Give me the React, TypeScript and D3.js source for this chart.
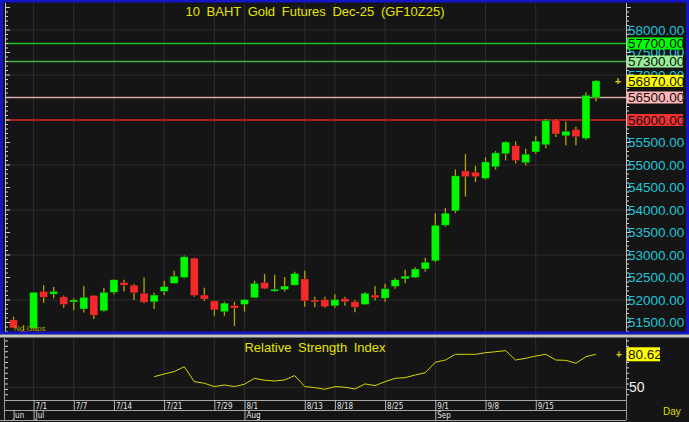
import * as d3 from "d3";

// trading days (Thai futures calendar, holidays skipped)
const dates = [
  "6/27", "6/30", "7/1", "7/2", "7/3", "7/4", "7/7", "7/8", "7/9", "7/11",
  "7/14", "7/15", "7/16", "7/17", "7/18", "7/21", "7/22", "7/23", "7/24", "7/25",
  "7/29", "7/30", "7/31", "8/1", "8/4", "8/5", "8/6", "8/7", "8/8", "8/13",
  "8/14", "8/15", "8/18", "8/19", "8/20", "8/21", "8/22", "8/25", "8/26", "8/27",
  "8/28", "8/29", "9/1", "9/2", "9/3", "9/4", "9/5", "9/8", "9/9", "9/10",
  "9/11", "9/12", "9/15", "9/16", "9/17", "9/18", "9/19", "9/22", "9/23",
];
const opens = [
  51560, 51310, 51370, 52190, 52130, 52070, 51960, 51800, 52100, 51760,
  52170, 52390, 52330, 52150, 51960, 52190, 52370, 52500, 52930, 52110,
  51980, 51740, 51880, 51900, 52050, 52390, 52210, 52230, 52330, 52470,
  52000, 52010, 51870, 52030, 51960, 51900, 52110, 52040, 52300, 52470,
  52500, 52690, 52870, 53660, 53980, 54870, 54840, 54700, 54960, 55250,
  55430, 55050, 55290, 55450, 56000, 55650, 55790, 55590, 56500,
];
const highs = [
  51630, 51440, 52180, 52330, 52290, 52100, 52040, 52310, 52110, 52270,
  52460, 52450, 52360, 52500, 52160, 52430, 52650, 52990, 52940, 52270,
  51990, 51960, 51960, 52020, 52430, 52580, 52560, 52510, 52630, 52650,
  52070, 52070, 52130, 52070, 52000, 52180, 52310, 52360, 52490, 52670,
  52730, 52940, 53930, 54040, 54900, 55240, 54980, 55170, 55310, 55530,
  55520, 55360, 55640, 56020, 56020, 55960, 55850, 56610, 56890,
];
const lows = [
  51370, 51270, 51350, 51940, 52040, 51830, 51770, 51720, 51580, 51740,
  52130, 52190, 52000, 51930, 51800, 52110, 52360, 52480, 52070, 51980,
  51650, 51650, 51420, 51740, 52040, 52240, 52190, 52190, 52320, 51850,
  51840, 51830, 51830, 51870, 51730, 51890, 51990, 51960, 52250, 52370,
  52490, 52630, 52840, 53630, 53930, 54300, 54620, 54680, 54900, 55100,
  55040, 54990, 55250, 55370, 55620, 55440, 55440, 55560, 56410,
];
const closes = [
  51380, 51290, 52170, 52060, 52190, 51900, 52000, 52060, 51660, 52170,
  52450, 52330, 52160, 51950, 52110, 52300, 52530, 52960, 52100, 52020,
  51780, 51930, 51820, 52010, 52370, 52250, 52240, 52310, 52590, 51980,
  51960, 51850, 52010, 51960, 51840, 52150, 52050, 52250, 52450, 52530,
  52690, 52840, 53660, 53930, 54760, 54740, 54740, 55070, 55270, 55510,
  55100, 55240, 55530, 55990, 55690, 55750, 55630, 56550, 56870,
];
// RSI, first 14 days have no value
const rsi: (number | null)[] = [
  null, null, null, null, null, null, null, null, null, null,
  null, null, null, null, 59.8, 62.3, 64.5, 69.1, 55.2, 53.7,
  50.6, 52.1, 50.6, 52.8, 58.3, 56.5, 55.8, 56.8, 60.8, 50.6,
  49.6, 48.1, 50.6, 50.0, 48.4, 53.1, 51.5, 55.2, 58.3, 58.9,
  61.4, 63.5, 73.2, 75.3, 80.6, 80.6, 80.6, 82.1, 83.0, 84.0,
  75.3, 76.9, 79.0, 80.6, 75.3, 75.0, 72.3, 78.4, 80.62,
];

const tickDates = ["7/1", "7/7", "7/14", "7/21", "7/29", "8/1", "8/13", "8/18", "8/25", "9/1", "9/8", "9/15"];
const monthStarts = ["7/1", "8/1", "9/1"];
const monthNames = ["Jun", "Jul", "Aug", "Sep"];
const priceTicks = d3.range(51500, 58001, 500);
const levelValues = [57700, 57300, 56500, 56000];
const lastPrice = 56870;
const lastRsi = 80.62;

const W = 689;
const H = 422;
const FONT = "Arial, 'Liberation Sans', sans-serif";

const levelLine: Record<number, string> = { 57700: "#1fc21f", 57300: "#45b045", 56500: "#d9aaa2", 56000: "#d52222" };
const levelBox: Record<number, string> = { 57700: "#00ff00", 57300: "#98f098", 56500: "#ffb6b6", 56000: "#f23232" };

export default function App() {
  const plotL = 5, plotR = 626;
  const mainTop = 3, mainBot = 332;
  const rsiTop = 338, rsiBot = 400;
  const axBot = 420;

  const x = d3.scaleLinear().domain([0, dates.length - 1]).range([13.5, 596]);
  const y = d3.scaleLinear().domain([56000, 58000]).range([120, 30]);
  const ry = d3.scaleLinear().domain([40, 90]).range([398, 344.2]);
  const idx = (d: string) => dates.indexOf(d);

  const rsiLine = d3.line<number | null>()
    .defined(d => d != null)
    .x((_, i) => x(i))
    .y(d => ry(d as number));

  const gridY = d3.range(52000, 58001, 1000);
  const minorY = d3.range(51300, 58600, 100).filter(v => y(v) > mainTop && y(v) < mainBot);
  const rsiTicks = d3.range(40, 91, 10);
  const rsiMinor = d3.range(38, 96, 5).filter(v => ry(v) > rsiTop + 2 && ry(v) < rsiBot - 1);

  return (
    <div style={{ position: "absolute", left: 0, top: 0 }}>
      <svg width={W} height={H} style={{ display: "block", background: "#151515" }} fontFamily={FONT}>
        {/* main panel */}
        <rect x={0} y={0} width={W} height={335} fill="#151515" />
        {gridY.map(v => (
          <line key={v} x1={plotL} x2={plotR} y1={y(v)} y2={y(v)} stroke="#2d2d2d" />
        ))}
        {tickDates.map(d => (
          <line key={d} x1={x(idx(d))} x2={x(idx(d))} y1={mainTop} y2={mainBot} stroke="#2d2d2d" />
        ))}
        <text x={315} y={16} textAnchor="middle" fontSize={13} fill="#e4e400" wordSpacing={3}>
          10 BAHT Gold Futures Dec-25 (GF10Z25)
        </text>

        {levelValues.map(v => (
          <line key={v} x1={plotL} x2={plotR} y1={y(v)} y2={y(v)} stroke={levelLine[v]} strokeWidth={1.5} />
        ))}

        {/* candles */}
        {dates.map((d, i) => {
          const up = closes[i] >= opens[i];
          const top = y(Math.max(opens[i], closes[i]));
          const bot = y(Math.min(opens[i], closes[i]));
          return (
            <g key={d}>
              <line x1={x(i)} x2={x(i)} y1={y(highs[i])} y2={y(lows[i])} stroke="#b4a600" strokeWidth={1.3} />
              <rect
                x={x(i) - 4}
                y={top}
                width={8}
                height={Math.max(2, bot - top)}
                fill={up ? "#00f800" : "#f42a2a"}
                stroke="#000"
                strokeOpacity={0.35}
                strokeWidth={0.8}
              />
            </g>
          );
        })}

        <text x={14} y={331} fontSize={8} fill="#a8a400">No Gaps</text>
        <text x={618} y={y(lastPrice) + 4} textAnchor="middle" fontSize={11} fontWeight="bold" fill="#e0d000">+</text>

        {/* axes lines + ticks */}
        <line x1={plotL + 0.5} x2={plotL + 0.5} y1={mainTop} y2={mainBot} stroke="#bdbdbd" />
        <line x1={plotR + 0.5} x2={plotR + 0.5} y1={mainTop} y2={mainBot} stroke="#bdbdbd" />
        {minorY.map(v => (
          <g key={v}>
            <line x1={plotL} x2={plotL + (v % 500 === 0 ? 5 : 3)} y1={y(v)} y2={y(v)} stroke="#d0d0d0" />
            <line x1={plotR} x2={plotR + (v % 500 === 0 ? 5 : 3)} y1={y(v)} y2={y(v)} stroke="#d0d0d0" />
          </g>
        ))}
        {priceTicks.map(v => (
          <text key={v} x={628} y={y(v)} dy="0.36em" fontSize={13.5} fill="#1fc6d8">
            {v.toFixed(2)}
          </text>
        ))}
        {[...levelValues, lastPrice].sort((a, b) => a - b).map(v => (
          <g key={"b" + v}>
            <rect x={627} y={y(v) - 6} width={56} height={12} fill={v === lastPrice ? "#ffff00" : levelBox[v]} />
            <text x={628} y={y(v)} dy="0.36em" fontSize={13.5} fill="#111">{v.toFixed(2)}</text>
          </g>
        ))}

        {/* blue frame of active panel */}
        <rect x={1.5} y={1} width={686} height={332} fill="none" stroke="#1414c8" strokeWidth={3} />
        <rect x={0} y={334.5} width={W} height={3} fill="#c4c4c4" />

        {/* RSI panel */}
        <line x1={plotL} x2={plotR} y1={ry(50)} y2={ry(50)} stroke="#2d2d2d" />
        {tickDates.map(d => (
          <line key={"r" + d} x1={x(idx(d))} x2={x(idx(d))} y1={rsiTop} y2={rsiBot} stroke="#2d2d2d" />
        ))}
        <text x={315} y={352} textAnchor="middle" fontSize={13} fill="#e4e400" wordSpacing={3}>
          Relative Strength Index
        </text>
        <path d={rsiLine(rsi) ?? ""} fill="none" stroke="#d6d600" strokeWidth={1} />
        <line x1={plotL - 0.5} x2={plotL - 0.5} y1={rsiTop} y2={axBot} stroke="#9a9a9a" />
        <line x1={plotR + 0.5} x2={plotR + 0.5} y1={rsiTop} y2={axBot} stroke="#9a9a9a" />
        {rsiMinor.map(v => (
          <g key={"rm" + v}>
            <line x1={plotL} x2={plotL + (rsiTicks.includes(v) ? 5 : 3)} y1={ry(v)} y2={ry(v)} stroke="#d0d0d0" />
            <line x1={plotR} x2={plotR + (rsiTicks.includes(v) ? 5 : 3)} y1={ry(v)} y2={ry(v)} stroke="#d0d0d0" />
          </g>
        ))}
        <text x={629} y={ry(50)} dy="0.36em" fontSize={14} fill="#f0f0f0">50</text>
        <rect x={627} y={ry(lastRsi) - 7} width={33} height={14} fill="#ffff00" />
        <text x={628} y={ry(lastRsi)} dy="0.36em" fontSize={13.5} fill="#111">{lastRsi.toFixed(2)}</text>
        <text x={619} y={ry(lastRsi) + 4} textAnchor="middle" fontSize={10} fontWeight="bold" fill="#e0d000">+</text>

        {/* date axis */}
        <rect x={plotL} y={rsiBot} width={plotR - plotL} height={axBot - rsiBot} fill="#141414" />
        <line x1={plotL} x2={plotR} y1={rsiBot + 0.5} y2={rsiBot + 0.5} stroke="#a8a8a8" />
        <line x1={plotL} x2={plotR} y1={410.5} y2={410.5} stroke="#a8a8a8" />
        <line x1={0} x2={plotR} y1={axBot + 0.5} y2={axBot + 0.5} stroke="#a8a8a8" />
        {tickDates.map(d => (
          <g key={"t" + d}>
            <line x1={x(idx(d)) + 0.5} x2={x(idx(d)) + 0.5} y1={rsiBot} y2={410} stroke="#b8b8b8" />
            <text x={x(idx(d)) + 2} y={408.5} fontSize={8} fill="#e6e6e6" fontFamily="'DejaVu Sans Condensed', 'DejaVu Sans', sans-serif">
              {d}
            </text>
          </g>
        ))}
        {monthStarts.map(d => (
          <line key={"m" + d} x1={x(idx(d)) + 0.5} x2={x(idx(d)) + 0.5} y1={410} y2={axBot} stroke="#b8b8b8" />
        ))}
        {monthNames.map((m, i) => (
          <text
            key={m}
            x={i === 0 ? 13 : x(idx(monthStarts[i - 1])) + 2}
            y={418}
            fontSize={8}
            fill="#e6e6e6"
            fontFamily="'DejaVu Sans Condensed', 'DejaVu Sans', sans-serif"
          >
            {m}
          </text>
        ))}
        <text x={663} y={415} fontSize={10} fill="#dede00">Day</text>
      </svg>
    </div>
  );
}
